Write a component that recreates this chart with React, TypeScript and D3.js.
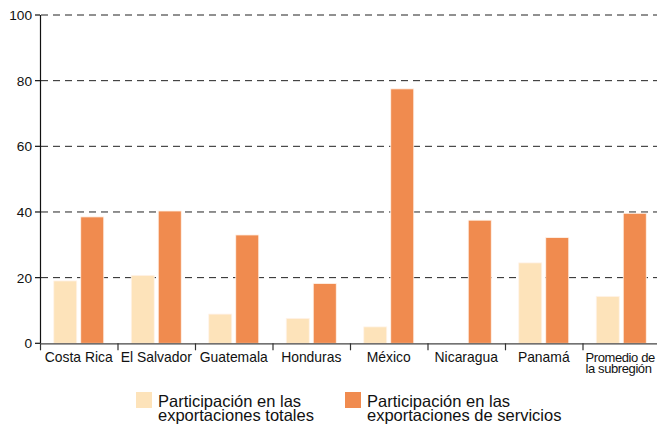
import React from "react";
import * as d3 from "d3";

const categories = ["Costa Rica", "El Salvador", "Guatemala", "Honduras", "México", "Nicaragua", "Panamá", "Promedio de la subregión"];
const categoryLines = [["Costa Rica"], ["El Salvador"], ["Guatemala"], ["Honduras"], ["México"], ["Nicaragua"], ["Panamá"], ["Promedio de", "la subregión"]];
const seriesNames = ["Participación en las exportaciones totales", "Participación en las exportaciones de servicios"];
const seriesLegendLines = [["Participación en las", "exportaciones totales"], ["Participación en las", "exportaciones de servicios"]];
const totales = [19.0, 20.7, 8.9, 7.6, 5.0, 0, 24.5, 14.3];
const servicios = [38.5, 40.3, 33.0, 18.2, 77.5, 37.5, 32.2, 39.6];
const yTicks = [0, 20, 40, 60, 80, 100];
const colors = ["#fde3ba", "#f08b4f"];

export default function App() {
  const W = 657, H = 426;
  const left = 40, right = 660, top = 15, bottom = 343.3;
  const x = d3.scaleBand<string>().domain(categories).range([left, right]).paddingInner(0).paddingOuter(0);
  const xs = d3.scaleBand<string>().domain(seriesNames).range([0, x.bandwidth()]).paddingInner(0.148).paddingOuter(0.509);
  const y = d3.scaleLinear().domain([0, 100]).range([bottom, top]);
  const values = [totales, servicios];
  const font = "'Liberation Sans', Arial, Helvetica, sans-serif";

  return (
    <svg width={W} height={H} style={{ position: "absolute", left: 0, top: 0, background: "#fff" }} fontFamily={font}>
      {yTicks.filter(t => t > 0).map(t => (
        <line key={"g" + t} x1={left + 1} x2={W} y1={y(t)} y2={y(t)} stroke="#222" strokeWidth={1} strokeDasharray="7,5" />
      ))}
      {categories.map((c, i) => (
        <g key={c}>
          {values.map((vals, s) => (
            vals[i] > 0 ? (
              <rect key={s} x={(x(c) as number) + (xs(seriesNames[s]) as number)} width={xs.bandwidth()}
                y={y(vals[i])} height={y(0) - y(vals[i])} fill={colors[s]} stroke="#fff3ea" strokeWidth={0.8} />
            ) : null
          ))}
        </g>
      ))}
      {/* y axis */}
      <line x1={left + 0.5} x2={left + 0.5} y1={top} y2={bottom} stroke="#111" strokeWidth={1.2} />
      {yTicks.map(t => (
        <g key={"yt" + t}>
          <line x1={left - 5} x2={left} y1={y(t)} y2={y(t)} stroke="#111" strokeWidth={1.2} />
          <text x={left - 8} y={y(t)} dy="0.36em" textAnchor="end" fontSize={13.7} fill="#111">{t}</text>
        </g>
      ))}
      {/* x axis */}
      <line x1={left} x2={W} y1={bottom + 0.5} y2={bottom + 0.5} stroke="#444" strokeWidth={1.2} />
      {categories.map((c, i) => (
        <line key={"xt" + i} x1={(x(c) as number) + 0.5} x2={(x(c) as number) + 0.5} y1={bottom} y2={bottom + 7} stroke="#333" strokeWidth={1.2} />
      ))}
      {categories.map((c, i) => {
        const lines = categoryLines[i];
        const multi = lines.length > 1;
        const cx = (x(c) as number) + x.bandwidth() / 2;
        return (
          <text key={"xl" + i} x={multi ? (x(c) as number) + 3 : cx} y={361.5} textAnchor={multi ? "start" : "middle"}
            fontSize={multi ? 13 : 13.9} fill="#111" letterSpacing={multi ? -0.4 : 0}>
            {lines.map((l, k) => (
              <tspan key={k} x={multi ? (x(c) as number) + 3 : cx} dy={k === 0 ? 0 : 11.5}>{l}</tspan>
            ))}
          </text>
        );
      })}
      {/* legend */}
      {seriesNames.map((s, i) => {
        const lx = i === 0 ? 136 : 345;
        return (
          <g key={"lg" + i}>
            <rect x={lx} y={392} width={16} height={16} fill={colors[i]} />
            <text x={lx + 22} y={406.5} fontSize={16.5} fill="#111">
              {seriesLegendLines[i].map((l, k) => (
                <tspan key={k} x={lx + 22} dy={k === 0 ? 0 : 14}>{l}</tspan>
              ))}
            </text>
          </g>
        );
      })}
    </svg>
  );
}
